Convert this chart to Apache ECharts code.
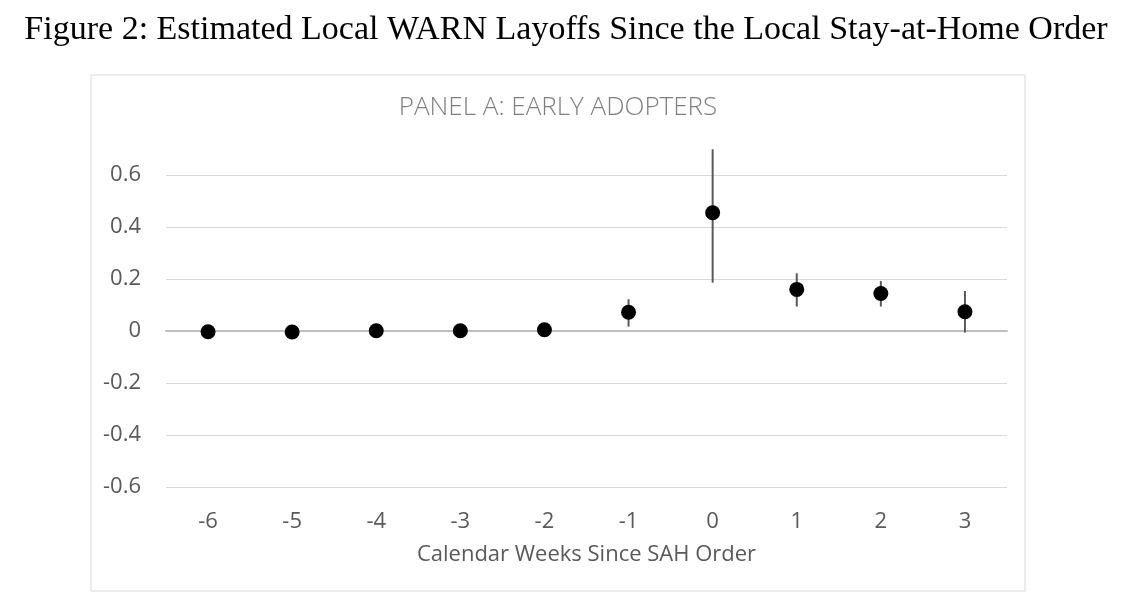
<!DOCTYPE html>
<html>
<head>
<meta charset="utf-8">
<script src="https://cdn.jsdelivr.net/npm/echarts@6/dist/echarts.min.js"></script>
<style>
html,body{margin:0;padding:0;background:#fff;}
#chart{width:1132px;height:602px;}
</style>
</head>
<body>
<div id="chart"></div>
<script>
var weeks = ['-6','-5','-4','-3','-2','-1','0','1','2','3'];
var estimates = [-0.003, -0.004, 0.001, 0.001, 0.005, 0.072, 0.455, 0.160, 0.144, 0.074];
var lowerCI = [-0.010, -0.011, -0.005, -0.005, -0.002, 0.017, 0.186, 0.094, 0.094, -0.006];
var upperCI = [0.004, 0.003, 0.007, 0.007, 0.012, 0.122, 0.699, 0.222, 0.192, 0.154];
var yTicks = [-0.6, -0.4, -0.2, 0, 0.2, 0.4, 0.6];

var figureTitle = 'Figure 2: Estimated Local WARN Layoffs Since the Local Stay-at-Home Order';
var panelTitle = 'PANEL A: EARLY ADOPTERS';
var xAxisName = 'Calendar Weeks Since SAH Order';

var sans = '"Open Sans", "Noto Sans", sans-serif';

var errData = weeks.map(function (w, i) { return [i, lowerCI[i], upperCI[i]]; });
var ptData = weeks.map(function (w, i) { return [i, estimates[i]]; });

var chart = echarts.init(document.getElementById('chart'));
chart.setOption({
  backgroundColor: '#ffffff',
  animation: false,
  title: [
    {
      text: figureTitle,
      left: 561, top: 8, textAlign: 'center',
      textStyle: { fontFamily: '"Liberation Serif", "DejaVu Serif", serif', fontWeight: 'normal', fontSize: 34, color: '#000' }
    },
    {
      text: panelTitle,
      left: 553, top: 90, textAlign: 'center',
      textStyle: { fontFamily: sans, fontWeight: 300, fontSize: 26, color: '#808080' }
    }
  ],
  graphic: [
    {
      type: 'rect', z: -10,
      shape: { x: 91, y: 75, width: 934, height: 516 },
      style: { fill: '#fff', stroke: '#d9d9d9', lineWidth: 1 }
    }
  ],
  grid: { left: 166, right: 125, top: 175, bottom: 115, containLabel: false },
  xAxis: {
    type: 'category',
    data: weeks,
    boundaryGap: true,
    name: xAxisName,
    nameLocation: 'middle',
    nameGap: 57,
    nameTextStyle: { fontFamily: sans, fontSize: 22, color: '#595959' },
    axisLine: { show: true, onZero: true, lineStyle: { color: '#bfbfbf', width: 2 } },
    axisTick: { show: false },
    axisLabel: { fontFamily: sans, fontSize: 22, color: '#595959', margin: 24, interval: 0 },
    splitLine: { show: false }
  },
  yAxis: {
    type: 'value',
    min: -0.6, max: 0.6, interval: 0.2,
    axisLine: { show: false },
    axisTick: { show: false },
    axisLabel: {
      fontFamily: sans, fontSize: 22, color: '#595959', margin: 25,
      formatter: function (v) { var r = Math.round(v * 10) / 10; return r === 0 ? '0' : String(r); }
    },
    splitLine: { show: true, lineStyle: { color: '#d9d9d9', width: 1 } }
  },
  series: [
    {
      type: 'custom',
      data: errData,
      z: 2,
      renderItem: function (params, api) {
        var x = api.value(0);
        var lo = api.coord([x, api.value(1)]);
        var hi = api.coord([x, api.value(2)]);
        return {
          type: 'line',
          shape: { x1: lo[0], y1: lo[1], x2: hi[0], y2: hi[1] },
          style: { stroke: '#595959', lineWidth: 2 }
        };
      }
    },
    {
      type: 'scatter',
      data: ptData,
      z: 3,
      symbol: 'circle',
      symbolSize: 15,
      itemStyle: { color: '#000000', opacity: 1 }
    }
  ]
});
</script>
</body>
</html>
